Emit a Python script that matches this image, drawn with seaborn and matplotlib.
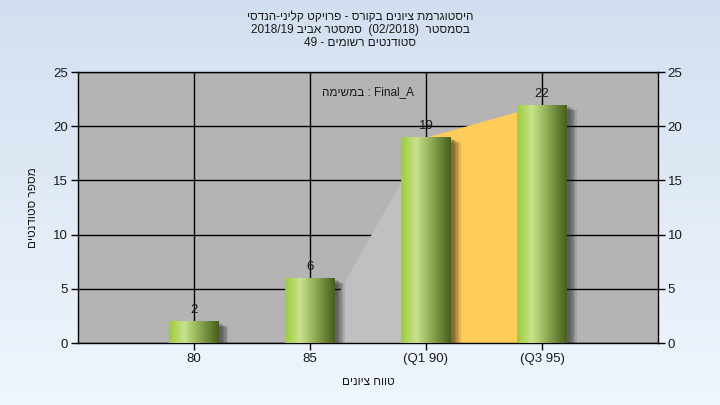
import re
import numpy as np
import pandas as pd
import matplotlib
matplotlib.use('Agg')
import matplotlib.pyplot as plt
import matplotlib.patheffects as pe
from matplotlib.colors import LinearSegmentedColormap
import seaborn as sns

# נתונים
grade_labels = ['80', '85', '(Q1 90)', '(Q3 95)']
student_counts = [2, 6, 19, 22]
q1_label = '(Q1 90)'
q3_label = '(Q3 95)'

title_lines = [
    'היסטוגרמת ציונים בקורס - פרויקט קליני-הנדסי',
    'בסמסטר  (02/2018)  סמסטר אביב 2018/19',
    'סטודנטים רשומים - 49',
]
task_text = 'Final_A : במשימה'
x_title = 'טווח ציונים'
y_title = 'מספר סטודנטים'


def rtl(s):
    # matplotlib has no bidi: build the visual order for a right-to-left line
    out = s[::-1]
    out = re.sub(r'[A-Za-z0-9_./]+', lambda m: m.group(0)[::-1], out)
    return out.translate(str.maketrans('()', ')('))


sns.set_theme(style='white')
plt.rcParams['font.family'] = ['Liberation Sans', 'DejaVu Sans']

df = pd.DataFrame({'grade': grade_labels, 'count': student_counts})

fig = plt.figure(figsize=(7.2, 4.05), dpi=100)

# רקע מדורג
bg = fig.add_axes([0, 0, 1, 1], zorder=-10)
grad = np.linspace(0, 1, 256).reshape(-1, 1)
bg.imshow(grad, aspect='auto', extent=[0, 1, 0, 1],
          cmap=LinearSegmentedColormap.from_list('bg', ['#eff6fd', '#d3dff0']),
          origin='lower')
bg.axis('off')

ax = fig.add_axes([0.108, 0.153, 0.806, 0.669])
ax.set_facecolor('#b4b4b4')

sns.barplot(data=df, x='grade', y='count', order=grade_labels,
            color='#a8cc5c', width=0.43, ax=ax, zorder=3,
            saturation=1, linewidth=0)

# אזורים בין הרבעונים
i1 = grade_labels.index(q1_label)
i3 = grade_labels.index(q3_label)
ax.fill_between([i1 - 1, i1], [0, student_counts[i1]],
                color='#c0c0c0', lw=0, zorder=1)
ax.fill_between([i1, i3], [student_counts[i1], student_counts[i3]],
                color='#ffcc5a', lw=0, zorder=1)

cyl = LinearSegmentedColormap.from_list(
    'cyl', [(0, '#9ccd3c'), (0.3, '#c8e28e'), (0.55, '#9ab65e'), (1, '#46601a')])
shadow = [pe.SimplePatchShadow(offset=(d, -d * 0.6), shadow_rgbFace='k',
                               alpha=0.12) for d in (7, 6, 5, 4, 3, 2)]
for patch in ax.patches:
    x0, w, h = patch.get_x(), patch.get_width(), patch.get_height()
    patch.set_path_effects(shadow + [pe.Normal()])
    img = ax.imshow(np.linspace(0, 1, 64).reshape(1, -1), cmap=cyl,
                    extent=[x0, x0 + w, 0, h], aspect='auto', zorder=3.5)
    img.set_clip_path(patch)
    ax.text(x0 + w / 2, h + 0.45, str(int(h)), ha='center', va='bottom',
            fontsize=9.5, color='#1a1a1a', zorder=5)

ax.set_xlim(-1, len(grade_labels))
ax.set_ylim(0, 25)
ax.set_yticks(range(0, 26, 5))
ax.set_axisbelow(True)
ax.grid(True, color='black', lw=1, zorder=0.5)
for s in ax.spines.values():
    s.set_color('black')
    s.set_linewidth(1)
ax.tick_params(axis='both', direction='out', length=5, width=1,
               color='black', labelsize=9.5, labelcolor='#1a1a1a',
               left=True, bottom=True, pad=2)
ax.set_xlabel(rtl(x_title), fontsize=8.5, labelpad=8, color='#1a1a1a')
ax.set_ylabel(rtl(y_title), fontsize=8.5, labelpad=10, color='#1a1a1a')

ax2 = ax.twinx()
ax2.set_ylim(0, 25)
ax2.set_yticks(range(0, 26, 5))
ax2.grid(False)
ax2.tick_params(axis='y', direction='out', length=5, width=1, color='black',
                labelsize=9.5, labelcolor='#1a1a1a', right=True, pad=2)
for s in ax2.spines.values():
    s.set_visible(False)

ax.text(0.5, 0.95, rtl(task_text), transform=ax.transAxes, ha='center',
        va='top', fontsize=8.5, color='#1a1a1a')

for k, line in enumerate(title_lines):
    fig.text(0.5, 1 - (17 + 13 * k) / 405, rtl(line), ha='center',
             va='center', fontsize=8.5, color='#1a1a1a')

fig.savefig('out.png', dpi=100)
